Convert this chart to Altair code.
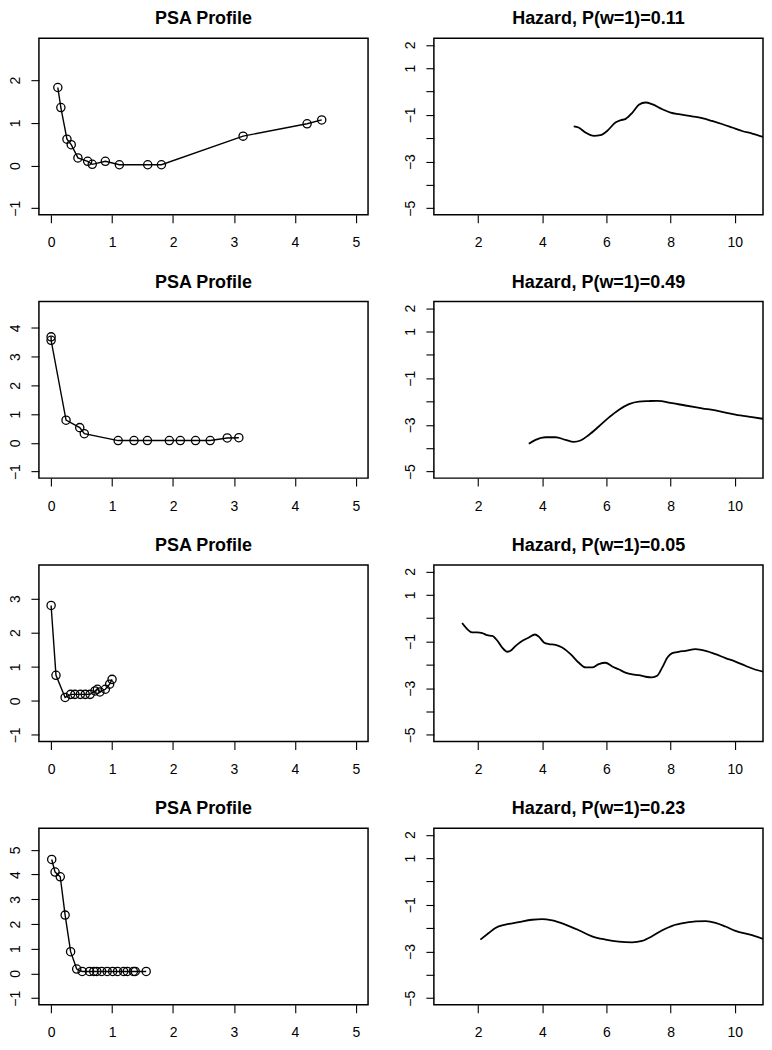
import altair as alt
import pandas as pd

FONT = "Liberation Sans"

# ---------------- data ----------------
psa1_x = [0.11, 0.16, 0.26, 0.33, 0.44, 0.60, 0.675, 0.89, 1.12, 1.585, 1.81, 3.15, 4.20, 4.44]
psa1_y = [1.83, 1.36, 0.62, 0.49, 0.18, 0.10, 0.03, 0.10, 0.02, 0.02, 0.02, 0.69, 0.98, 1.07]

psa2_x = [0.0, 0.0, 0.245, 0.47, 0.545, 1.10, 1.36, 1.58, 1.94, 2.12, 2.37, 2.61, 2.89, 3.08]
psa2_y = [3.69, 3.57, 0.79, 0.53, 0.32, 0.08, 0.08, 0.08, 0.08, 0.08, 0.08, 0.08, 0.17, 0.18]

psa3_x = [0.0, 0.08, 0.23, 0.32, 0.39, 0.48, 0.56, 0.64, 0.72, 0.76, 0.80, 0.89, 0.96, 1.0]
psa3_y = [2.80, 0.75, 0.10, 0.19, 0.19, 0.19, 0.19, 0.19, 0.29, 0.34, 0.26, 0.34, 0.49, 0.63]

psa4_x = [0.01, 0.065, 0.15, 0.23, 0.32, 0.42, 0.51, 0.63, 0.70, 0.75, 0.83, 0.92, 1.01, 1.09,
          1.19, 1.25, 1.35, 1.38, 1.56]
psa4_y = [4.61, 4.10, 3.91, 2.36, 0.88, 0.18, 0.08, 0.08, 0.08, 0.08, 0.08, 0.08, 0.08, 0.08,
          0.08, 0.08, 0.08, 0.08, 0.08]

haz1_x = [4.98, 5.13, 5.35, 5.61, 5.81, 6.02, 6.28, 6.44, 6.60, 6.81, 7.01, 7.22, 7.42, 7.74,
          8.0, 8.25, 8.67, 8.98, 9.29, 9.60, 9.92, 10.23, 10.54, 10.88]
haz1_y = [-1.49, -1.54, -1.76, -1.90, -1.87, -1.69, -1.33, -1.23, -1.17, -0.90, -0.57, -0.47,
          -0.54, -0.76, -0.90, -0.97, -1.06, -1.14, -1.26, -1.39, -1.54, -1.69, -1.80, -1.94]

haz2_x = [3.58, 3.79, 4.10, 4.41, 4.72, 4.98, 5.19, 5.45, 5.76, 6.07, 6.38, 6.70, 7.01, 7.32,
          7.58, 8.05, 8.46, 8.98, 9.50, 10.02, 10.54, 10.88]
haz2_y = [-3.81, -3.64, -3.53, -3.53, -3.64, -3.73, -3.67, -3.43, -3.07, -2.69, -2.36, -2.11,
          -2.00, -1.98, -1.97, -2.07, -2.17, -2.29, -2.41, -2.56, -2.67, -2.74]

haz3_x = [1.50, 1.66, 1.81, 1.97, 2.13, 2.28, 2.44, 2.60, 2.75, 2.91, 3.01, 3.17, 3.38, 3.58,
          3.77, 3.89, 4.05, 4.20, 4.41, 4.62, 4.88, 5.13, 5.35, 5.55, 5.76, 5.97, 6.18, 6.38,
          6.59, 6.81, 7.01, 7.22, 7.42, 7.58, 7.74, 7.90, 8.05, 8.25, 8.46, 8.78, 9.09, 9.40,
          9.71, 10.02, 10.33, 10.65, 10.88]
haz3_y = [-0.21, -0.47, -0.61, -0.61, -0.64, -0.73, -0.76, -0.97, -1.26, -1.44, -1.40, -1.19,
          -0.97, -0.83, -0.70, -0.79, -1.04, -1.11, -1.14, -1.26, -1.54, -1.90, -2.11, -2.11,
          -1.97, -1.91, -2.07, -2.19, -2.33, -2.41, -2.44, -2.51, -2.54, -2.47, -2.11, -1.69,
          -1.50, -1.44, -1.40, -1.33, -1.40, -1.54, -1.71, -1.86, -2.04, -2.21, -2.29]

haz4_x = [2.07, 2.33, 2.54, 2.85, 3.27, 3.68, 3.99, 4.31, 4.72, 5.14, 5.55, 5.97, 6.38, 6.80,
          7.11, 7.42, 7.74, 8.05, 8.46, 8.78, 9.09, 9.40, 9.71, 10.02, 10.54, 10.88]
haz4_y = [-2.49, -2.21, -1.99, -1.85, -1.74, -1.64, -1.61, -1.67, -1.85, -2.09, -2.35, -2.49,
          -2.58, -2.61, -2.55, -2.35, -2.09, -1.90, -1.77, -1.71, -1.70, -1.77, -1.93, -2.12,
          -2.30, -2.46]

psa_titles = ["PSA Profile"] * 4
haz_titles = ["Hazard, P(w=1)=0.11", "Hazard, P(w=1)=0.49",
              "Hazard, P(w=1)=0.05", "Hazard, P(w=1)=0.23"]

psa_x_ticks = [0, 1, 2, 3, 4, 5]
psa_y_ticks = [[-1, 0, 1, 2], [-1, 0, 1, 2, 3, 4], [-1, 0, 1, 2, 3], [-1, 0, 1, 2, 3, 4, 5]]
haz_x_ticks = [2, 4, 6, 8, 10]
haz_y_ticks = [-5, -4, -3, -2, -1, 0, 1, 2]
haz_y_labelled = [2, 1, -1, -3, -5]

psa_xlim = (0, 5)
haz_xlim = (1, 10.5)
haz_ylim = (-5, 2)


def r_extend(lo, hi):
    d = (hi - lo) * 0.04
    return [lo - d, hi + d]


def title(text):
    return alt.Title(text, fontSize=18, fontWeight="bold", font=FONT, color="black",
                     offset=-4, baseline="alphabetic", anchor="middle")


def x_axis(values):
    return alt.Axis(values=values, title=None, format="d", labelAngle=0,
                    labelBaseline="top", labelAlign="center")


def y_axis(values, label_expr=None):
    kw = dict(values=values, title=None, format="d", labelAngle=270,
              labelAlign="center", labelBaseline="alphabetic")
    if label_expr:
        kw["labelExpr"] = label_expr
    return alt.Axis(**kw)


def psa_panel(xs, ys, yticks, ttl):
    df = pd.DataFrame({"x": xs, "y": ys})
    ylim = r_extend(-1, max(ys) + 1)
    enc = dict(
        x=alt.X("x:Q", scale=alt.Scale(domain=r_extend(*psa_xlim), nice=False, zero=False),
                axis=x_axis(psa_x_ticks)),
        y=alt.Y("y:Q", scale=alt.Scale(domain=ylim, nice=False, zero=False),
                axis=y_axis(yticks)),
    )
    base = alt.Chart(df)
    line = base.mark_line(color="black", strokeWidth=1.4).encode(**enc)
    pts = base.mark_point(shape="circle", filled=False, color="black", size=68,
                          strokeWidth=1.3, opacity=1).encode(**enc)
    return (line + pts).properties(width=330, height=177, title=title(ttl))


def haz_panel(xs, ys, ttl):
    df = pd.DataFrame({"x": xs, "y": ys})
    expr = "indexof(" + str(haz_y_labelled) + ", datum.value) >= 0 ? datum.label : ''"
    line = alt.Chart(df).mark_line(color="black", strokeWidth=1.8, clip=True,
                                   interpolate="monotone").encode(
        x=alt.X("x:Q", scale=alt.Scale(domain=r_extend(*haz_xlim), nice=False, zero=False),
                axis=x_axis(haz_x_ticks)),
        y=alt.Y("y:Q", scale=alt.Scale(domain=r_extend(*haz_ylim), nice=False, zero=False),
                axis=y_axis(haz_y_ticks, expr)),
    )
    return line.properties(width=330, height=177, title=title(ttl))


panels = []
for (px, py), yt, pt, (hx, hy), ht in zip(
        [(psa1_x, psa1_y), (psa2_x, psa2_y), (psa3_x, psa3_y), (psa4_x, psa4_y)],
        psa_y_ticks, psa_titles,
        [(haz1_x, haz1_y), (haz2_x, haz2_y), (haz3_x, haz3_y), (haz4_x, haz4_y)],
        haz_titles):
    panels.append(psa_panel(px, py, yt, pt))
    panels.append(haz_panel(hx, hy, ht))

chart = alt.concat(*panels, columns=2, spacing={"row": 87, "column": 66}, bounds="flush").properties(
    padding={"left": 0, "top": 0, "right": 0, "bottom": 0},
    background="white",
).configure_view(
    stroke="black", strokeWidth=1.5, fill="white"
).configure_axis(
    domain=False, grid=False, ticks=True, tickColor="black", tickWidth=1.1, tickSize=8,
    labelColor="black", labelFont=FONT, labelFontSize=14, labelPadding=11,
).configure_axisX(labelPadding=13)

chart.save("out.html", embed_options={"renderer": "svg", "actions": False})
